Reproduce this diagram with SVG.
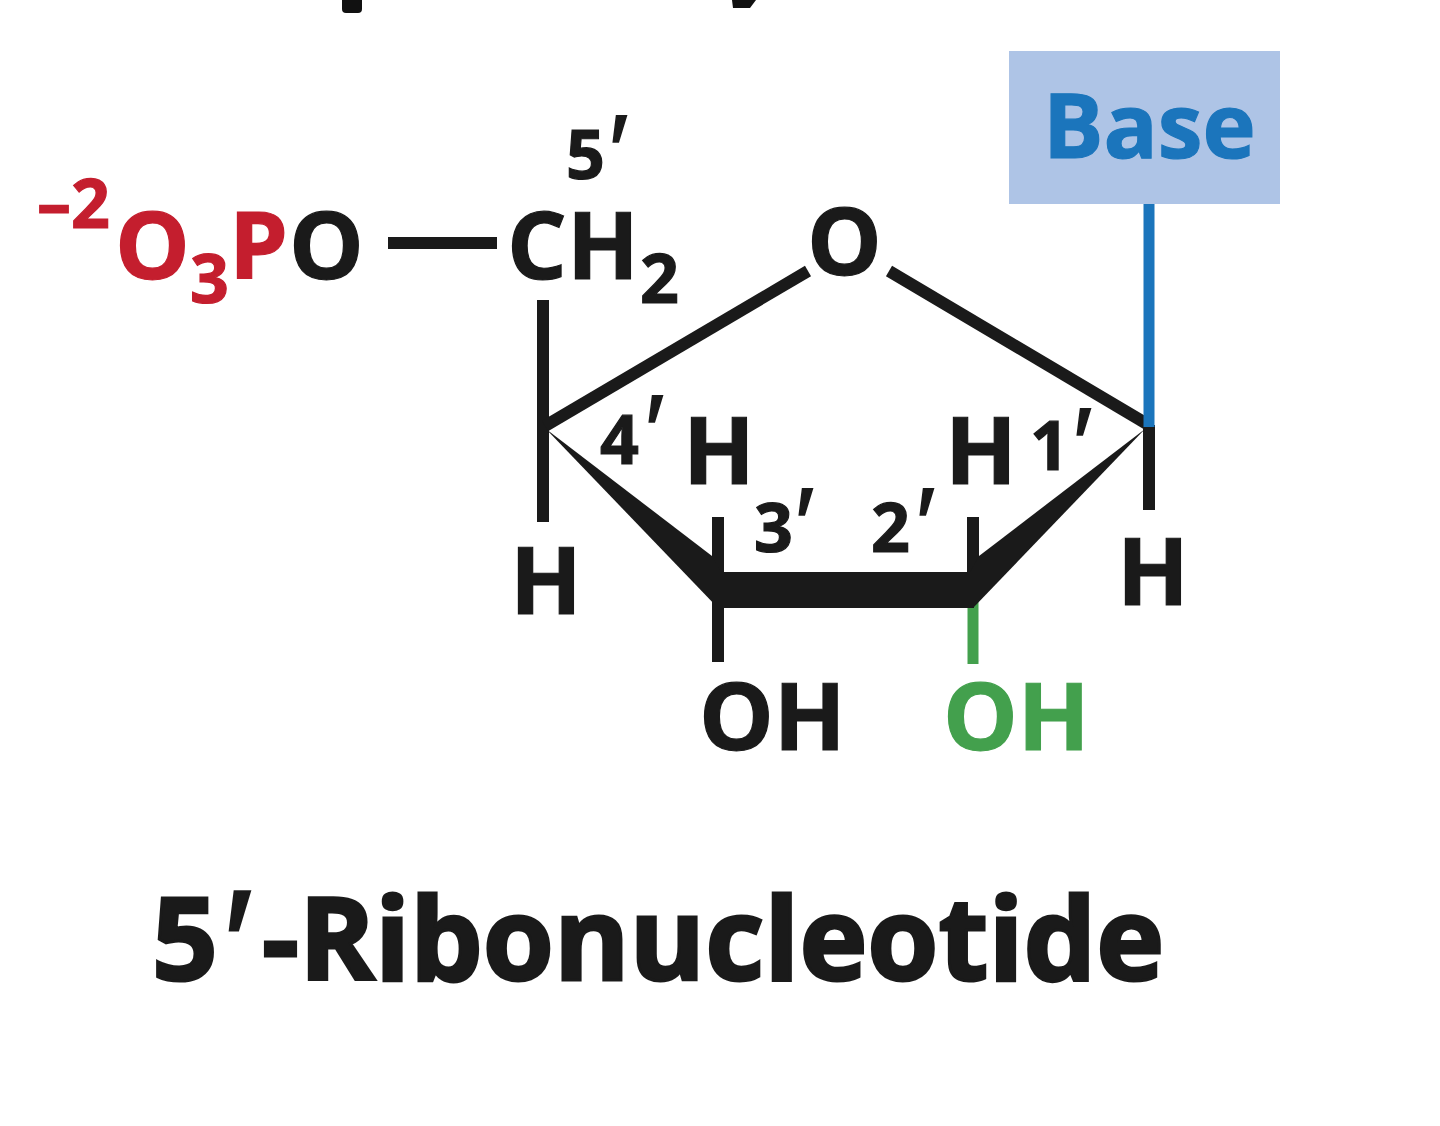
<svg xmlns="http://www.w3.org/2000/svg" width="1440" height="1126" viewBox="0 0 1440 1126">
<style>
text{font-family:"Open Sans","Noto Sans","Liberation Sans",sans-serif;font-weight:700;fill:#1a1a1a;stroke:#1a1a1a;stroke-width:1.2}
.a{font-size:94px}
.n{font-size:68px}
.r{fill:#c41e2e;stroke:#c41e2e}
.g{fill:#43a04d;stroke:#43a04d}
.b{fill:#1b75bc;stroke:#1b75bc}
.p{font-family:"Liberation Sans",sans-serif;font-style:italic;font-weight:400;font-size:104px;stroke-width:1.5}
.bond{stroke:#1a1a1a;stroke-width:12;fill:none}
</style>
<rect width="1440" height="1126" fill="#fff"/>
<g id="heading-fragments" fill="#111">
<path d="M342 0H362V9Q362 13 358 13H346Q342 13 342 9Z"/>
<path d="M732 0H756L750 8H733Z"/>
</g>
<g id="connectors">
<path class="bond" d="M388 243H497"/>
<path class="bond" d="M543 300V522"/>
<path class="bond" d="M545 426L808 271"/>
<path class="bond" d="M889 271L1147 424"/>
<path class="bond" d="M1149 425V510"/>
<path class="bond" d="M718 517V662"/>
<path class="bond" d="M973 517V580"/>
<path d="M973 600V664" stroke="#43a04d" stroke-width="11" fill="none"/>
<path d="M1149 204V427" stroke="#1b75bc" stroke-width="11" fill="none"/>
<path id="wedge-left" fill="#1a1a1a" d="M546 429L712 556L721 572V608H718Z"/>
<path id="wedge-right" fill="#1a1a1a" d="M1145 429L979 556L970 572V608H973Z"/>
<rect id="front-bond" x="716" y="572" width="258" height="36" fill="#1a1a1a"/>
</g>
<g id="phosphate"><text class="a" y="279"><tspan class="r" font-size="68" x="37" y="228">–2</tspan><tspan class="r" x="115" y="279">O</tspan><tspan class="r" font-size="68" x="190" y="303">3</tspan><tspan class="r" x="229" y="279">P</tspan><tspan x="289" y="279">O</tspan></text></g>
<g id="ch2"><text class="a" x="507" y="279">CH<tspan font-size="68" x="640" y="303">2</tspan></text><text class="n" x="566" y="179">5<tspan class="p" x="604" y="187">′</tspan></text></g>
<g id="ring-oxygen"><text class="a" x="807" y="275">O</text></g>
<g id="base"><rect x="1009" y="51" width="271" height="153" fill="#aec4e6"/><text class="b" x="1043" y="158" font-size="90">Base</text></g>
<g id="c4"><text class="n" x="600" y="464">4<tspan class="p" x="640" y="467">′</tspan></text><text class="a" x="510" y="614">H</text></g>
<g id="c3"><text class="a" x="683" y="484">H</text><text class="n" x="754" y="552">3<tspan class="p" x="790" y="560">′</tspan></text><text class="a" x="699" y="750">OH</text></g>
<g id="c2"><text class="a" x="945" y="484">H</text><text class="n" x="871" y="552">2<tspan class="p" x="911" y="560">′</tspan></text><text class="a g" x="943" y="750">OH</text></g>
<g id="c1"><text class="n" x="1030" y="470">1<tspan class="p" x="1068" y="480">′</tspan></text><text class="a" x="1117" y="605">H</text></g>
<g id="title"><text x="152" y="980" font-size="115" style="stroke-width:3">5<tspan font-family="Liberation Sans" font-style="italic" font-weight="400" font-size="150" x="217" y="995">′</tspan><tspan x="262" y="980">-Ribonucleotide</tspan></text></g>
</svg>
